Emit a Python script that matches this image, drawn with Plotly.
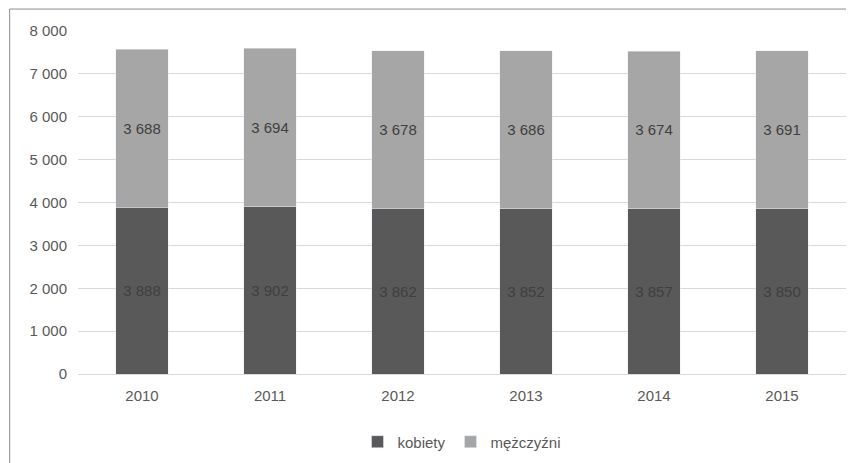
import plotly.graph_objects as go

years = ["2010", "2011", "2012", "2013", "2014", "2015"]
kobiety = [3888, 3902, 3862, 3852, 3857, 3850]
mezczyzni = [3688, 3694, 3678, 3686, 3674, 3691]
y_ticks = [0, 1000, 2000, 3000, 4000, 5000, 6000, 7000, 8000]
y_labels = ["0", "1 000", "2 000", "3 000", "4 000", "5 000", "6 000", "7 000", "8 000"]


def fmt(v):
    return f"{v:,}".replace(",", " ")


fig = go.Figure()
fig.add_trace(go.Bar(
    x=years, y=kobiety, name="kobiety", marker_color="#595959",
    text=[fmt(v) for v in kobiety], textposition="inside", insidetextanchor="middle",
    textfont=dict(color="#404040", size=15), width=0.41,
))
fig.add_trace(go.Bar(
    x=years, y=mezczyzni, name="mężczyźni", marker_color="#a6a6a6",
    text=[fmt(v) for v in mezczyzni], textposition="inside", insidetextanchor="middle",
    textfont=dict(color="#404040", size=15), width=0.41,
))

fig.update_layout(
    barmode="stack",
    width=854, height=463,
    margin=dict(l=70, r=16, t=23, b=97, autoexpand=False),
    plot_bgcolor="white", paper_bgcolor="white",
    font=dict(family="Liberation Sans, Arial", size=15, color="#595959"),
    uniformtext=dict(mode="show", minsize=15),
    xaxis=dict(showline=True, linecolor="#d9d9d9", ticks="", tickfont=dict(size=15),
               ticklabelstandoff=8),
    yaxis=dict(range=[0, 8000], tickvals=y_ticks, ticktext=y_labels, gridcolor="#d9d9d9",
               zeroline=False, ticklabelstandoff=10),
    legend=dict(orientation="h", x=0.5, xanchor="center", y=-0.15, yanchor="top",
                traceorder="normal", font=dict(size=15)),
    shapes=[dict(type="rect", xref="paper", yref="paper", x0=-0.089, x1=1.019,
                 y0=-0.28, y1=1.064, line=dict(color="#8c8c8c", width=1))],
)

fig.write_html("out.html")
